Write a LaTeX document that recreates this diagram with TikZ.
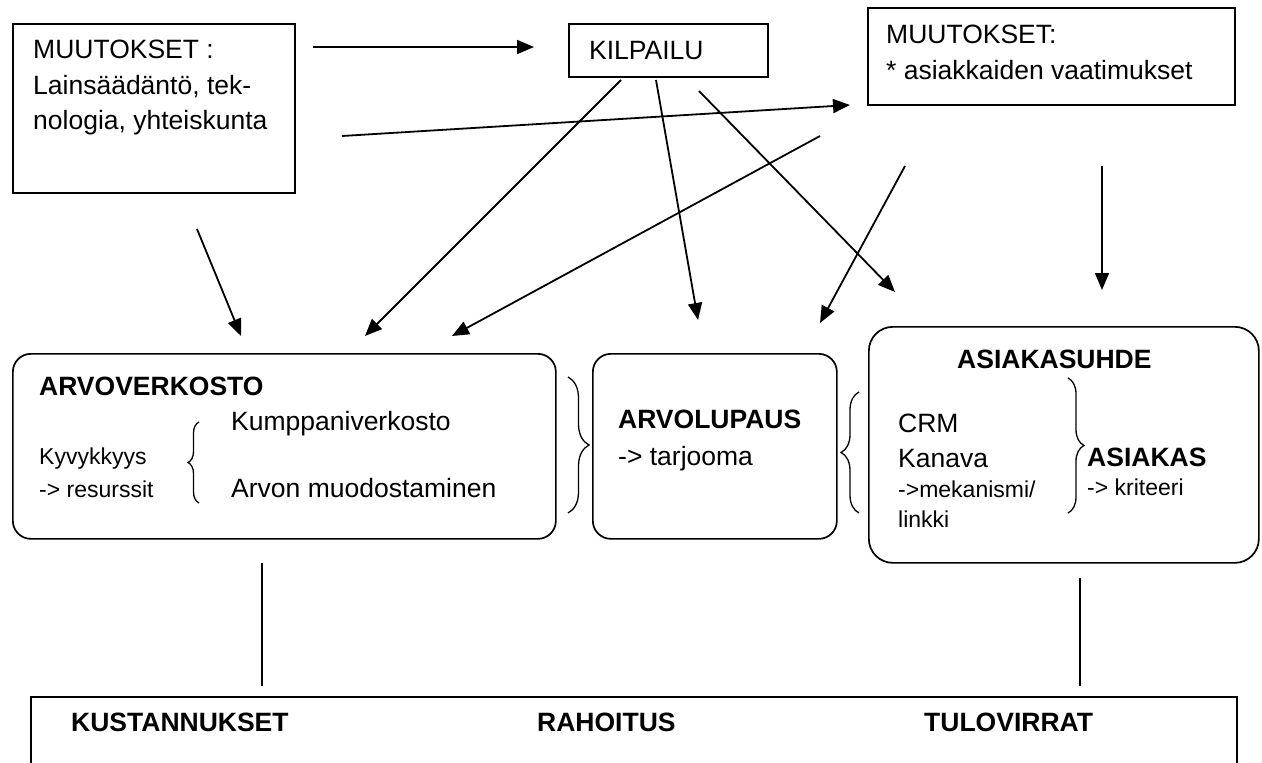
\documentclass[tikz,border=0pt]{standalone}
\usepackage{fontspec}
\setmainfont{Liberation Sans}
\usetikzlibrary{arrows.meta,decorations.pathreplacing}

\begin{document}
\begin{tikzpicture}[x=1pt,y=-1pt,
  box/.style={draw, line width=1.7pt, inner sep=0pt, anchor=north west},
  rbox/.style={box, rounded corners=18pt},
  arr/.style={line width=1.8pt, -{Triangle[length=17pt,width=14pt]}},
  link/.style={line width=1.4pt},
  brc/.style={decorate, decoration={brace, amplitude=#1}, line width=1.3pt},
  txt/.style={anchor=base west, inner sep=0pt, font=\fontsize{26.5}{32}\selectfont},
  sml/.style={anchor=base west, inner sep=0pt, font=\fontsize{23}{28}\selectfont},
  hd/.style={anchor=base west, inner sep=0pt, font=\fontsize{26.5}{32}\selectfont\bfseries},
]
\useasboundingbox (0,0) rectangle (1262,763);

% ---------- top row ----------
\node[box, minimum width=282pt, minimum height=169pt] (chg) at (12,23) {};
\node[txt] (chg1) at (33,58) {MUUTOKSET :};
\node[txt] (chg2) at (33,94) {Lainsäädäntö, tek-};
\node[txt] (chg3) at (33,129) {nologia, yhteiskunta};

\node[box, minimum width=199pt, minimum height=53pt] (comp) at (568,23) {};
\node[txt] (compt) at (589,59) {KILPAILU};

\node[box, minimum width=367pt, minimum height=97pt] (req) at (867,7) {};
\node[txt] (req1) at (886,43) {MUUTOKSET:};
\node[txt] (req2) at (886,79) {* asiakkaiden vaatimukset};

% ---------- middle row ----------
\node[rbox, minimum width=543pt, minimum height=185pt] (net) at (12,353) {};
\node[hd]  (net1) at (39,395) {ARVOVERKOSTO};
\node[txt] (net2) at (231,430) {Kumppaniverkosto};
\node[sml] (net3) at (39,464) {Kyvykkyys};
\node[sml] (net4) at (39,497) {-> resurssit};
\node[txt] (net5) at (231,497) {Arvon muodostaminen};

\node[rbox, minimum width=244pt, minimum height=185pt] (prop) at (592,353) {};
\node[hd]  (prop1) at (618,428) {ARVOLUPAUS};
\node[txt] (prop2) at (618,465) {-> tarjooma};

\node[rbox, rounded corners=24pt, minimum width=390pt, minimum height=236pt] (rel) at (868,326) {};
\node[hd]  (rel1) at (957,368) {ASIAKASUHDE};
\node[txt] (rel2) at (898,432) {CRM};
\node[txt] (rel3) at (898,467) {Kanava};
\node[sml] (rel4) at (898,497) {->mekanismi/};
\node[sml] (rel5) at (898,527) {linkki};
\node[hd]  (rel6) at (1087,466) {ASIAKAS};
\node[sml] (rel7) at (1087,495) {-> kriteeri};

% ---------- bottom row (runs off the lower edge) ----------
\begin{scope}
  \clip (0,0) rectangle (1262,763);
  \node[box, minimum width=1206pt, minimum height=120pt] (fin) at (30,696) {};
\end{scope}
\node[hd] (fin1) at (71,731) {KUSTANNUKSET};
\node[hd] (fin2) at (537,731) {RAHOITUS};
\node[hd] (fin3) at (924,731) {TULOVIRRAT};

% ---------- braces ----------
\draw[brc=11pt] (199,503) -- (199,422);
\draw[brc=21pt] (568,377) -- (568,513);
\draw[brc=18pt] (859,513) -- (859,392);
\draw[brc=16pt] (1068,378) -- (1068,513);

% ---------- connector end points ----------
\coordinate (c1s) at (313,47);   \coordinate (c1e) at (534,47);
\coordinate (c2s) at (342,136);  \coordinate (c2e) at (850,105);
\coordinate (c3s) at (197,229);  \coordinate (c3e) at (241,336);
\coordinate (c4s) at (621,80);   \coordinate (c4e) at (365,336);
\coordinate (c5s) at (656,80);   \coordinate (c5e) at (698,320);
\coordinate (c6s) at (699,91);   \coordinate (c6e) at (895,292);
\coordinate (c7s) at (820,136);  \coordinate (c7e) at (452,336);
\coordinate (c8s) at (905,166);  \coordinate (c8e) at (820,323);
\coordinate (c9s) at (1102,166); \coordinate (c9e) at (1102,290);
\coordinate (l1s) at (262,563);  \coordinate (l1e) at (262,686);
\coordinate (l2s) at (1080,578); \coordinate (l2e) at (1080,686);

% ---------- arrows ----------
\draw[arr] (c1s) -- (c1e);
\draw[arr] (c2s) -- (c2e);
\draw[arr] (c3s) -- (c3e);
\draw[arr] (c4s) -- (c4e);
\draw[arr] (c5s) -- (c5e);
\draw[arr] (c6s) -- (c6e);
\draw[arr] (c7s) -- (c7e);
\draw[arr] (c8s) -- (c8e);
\draw[arr] (c9s) -- (c9e);

% ---------- plain links to the bottom box ----------
\draw[link] (l1s) -- (l1e);
\draw[link] (l2s) -- (l2e);
\end{tikzpicture}
\end{document}
